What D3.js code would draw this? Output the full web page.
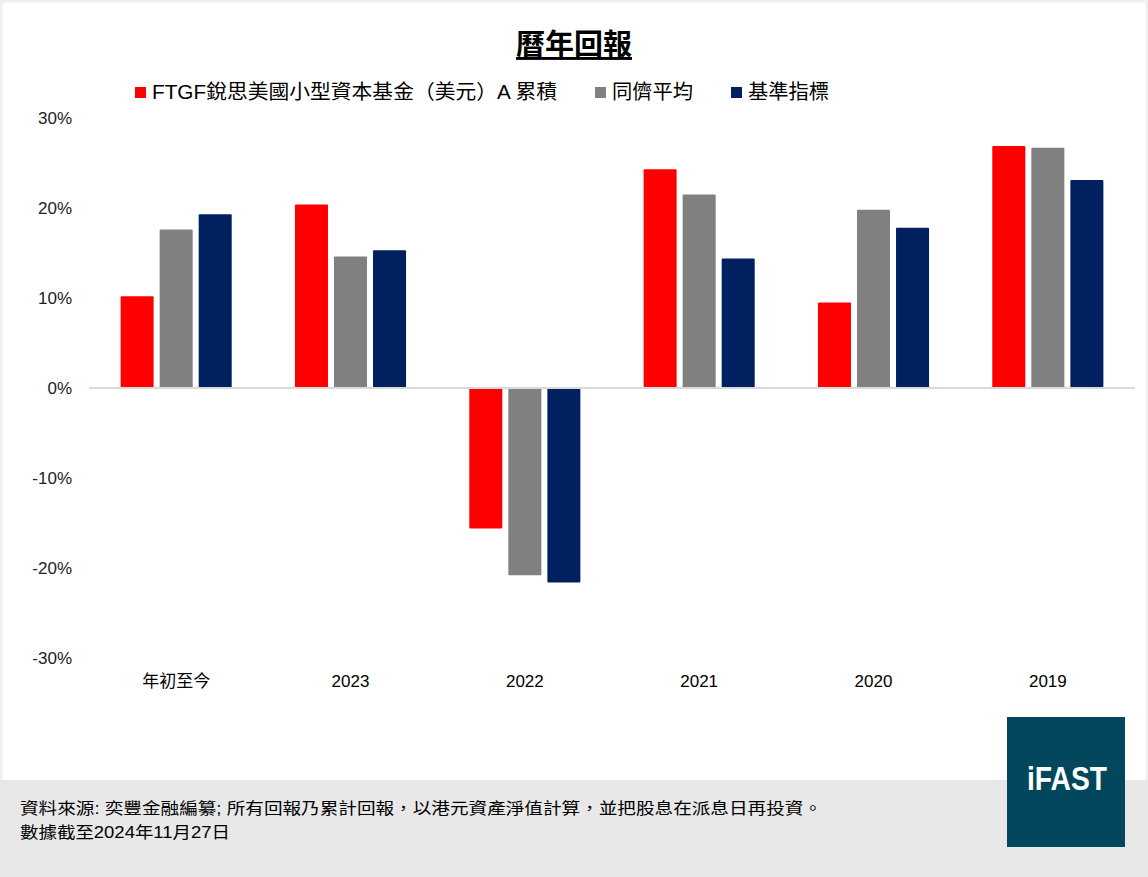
<!DOCTYPE html>
<html>
<head>
<meta charset="utf-8">
<script src="https://cdn.jsdelivr.net/npm/d3@7"></script>
<style>
  body { margin: 0; background: #fff; }
  svg { display: block; }
  text { font-family: "Liberation Sans", Arial, "Noto Sans CJK TC", sans-serif; }
</style>
</head>
<body>
<div id="chart"></div>
<script>
// chart data
var categories = ["年初至今", "2023", "2022", "2021", "2020", "2019"];
var seriesNames = ["FTGF銳思美國小型資本基金（美元）A 累積", "同儕平均", "基準指標"];
var fundValues = [10.2, 20.4, -15.6, 24.3, 9.5, 26.9];
var peerValues = [17.6, 14.6, -20.8, 21.5, 19.8, 26.7];
var benchValues = [19.3, 15.3, -21.6, 14.4, 17.8, 23.1];
var yTicks = [-30, -20, -10, 0, 10, 20, 30];
var colors = ["#ff0000", "#808080", "#002060"];

var allSeries = [fundValues, peerValues, benchValues];

var w = 1148;
var h = 877;

var svg = d3.select("#chart")
  .append("svg")
  .attr("width", w)
  .attr("height", h);

// faint frame
svg.append("rect")
  .attr("x", 0).attr("y", 0)
  .attr("width", w).attr("height", h)
  .attr("fill", "#fff")
  .attr("stroke", "#f0f0f0")
  .attr("stroke-width", 5);

// footer band
svg.append("rect")
  .attr("x", 0).attr("y", 780)
  .attr("width", w).attr("height", h - 780)
  .attr("fill", "#e8e8e8");

// scales
var x = d3.scaleBand()
  .domain(categories)
  .range([89, 1135]);

var xSub = d3.scaleBand()
  .domain(d3.range(seriesNames.length))
  .range([0, x.bandwidth()])
  .paddingInner(0.154)
  .paddingOuter(0.81);

var y = d3.scaleLinear()
  .domain([-30, 30])
  .range([658, 118]);

// title
svg.append("text")
  .attr("x", 574)
  .attr("y", 55)
  .attr("text-anchor", "middle")
  .attr("font-size", "29px")
  .attr("font-weight", "bold")
  .attr("text-decoration", "underline")
  .attr("fill", "#000")
  .text("曆年回報");

// legend (label widths)
var legendWidths = [405, 81, 81];
var lx = 135;
seriesNames.forEach(function(name, i) {
  svg.append("rect")
    .attr("x", lx).attr("y", 87)
    .attr("width", 11).attr("height", 11)
    .attr("fill", colors[i]);
  svg.append("text")
    .attr("x", lx + 17)
    .attr("y", 99)
    .attr("font-size", "20px")
    .attr("fill", "#000")
    .attr("textLength", legendWidths[i])
    .attr("lengthAdjust", "spacingAndGlyphs")
    .text(name);
  lx = lx + 17 + legendWidths[i] + 38;
});

// y axis
var yAxis = svg.append("g")
  .attr("transform", "translate(80,0)")
  .call(d3.axisLeft(y).tickValues(yTicks).tickSize(0).tickPadding(8)
    .tickFormat(function(d) { return d + "%"; }));
yAxis.select(".domain").remove();
yAxis.selectAll("text")
  .attr("font-size", "17px")
  .attr("fill", "#222")
  .style("font-family", "'Liberation Sans', Arial, sans-serif");

// x axis labels
var xAxis = svg.append("g")
  .attr("transform", "translate(0,658)")
  .call(d3.axisBottom(x).tickSize(0).tickPadding(17));
xAxis.select(".domain").remove();
xAxis.selectAll("text")
  .attr("font-size", "17px")
  .attr("fill", "#000")
  .style("font-family", "'Liberation Sans', Arial, 'Noto Sans CJK TC', sans-serif");

// bars
allSeries.forEach(function(vals, s) {
  svg.append("g")
    .selectAll("rect")
    .data(vals)
    .enter()
    .append("rect")
    .attr("x", function(d, i) { return x(categories[i]) + xSub(s); })
    .attr("y", function(d) { return d >= 0 ? y(d) : y(0); })
    .attr("width", xSub.bandwidth())
    .attr("height", function(d) { return Math.abs(y(d) - y(0)); })
    .attr("rx", 1)
    .attr("fill", colors[s]);
});

// zero line
svg.append("line")
  .attr("x1", 89).attr("x2", 1135)
  .attr("y1", y(0)).attr("y2", y(0))
  .attr("stroke", "#d9d9d9")
  .attr("stroke-width", 2);

// footer notes
svg.append("text")
  .attr("x", 20).attr("y", 814)
  .attr("font-size", "16px")
  .attr("fill", "#000")
  .attr("textLength", 802)
  .attr("lengthAdjust", "spacingAndGlyphs")
  .text("資料來源: 奕豐金融編纂; 所有回報乃累計回報，以港元資產淨值計算，並把股息在派息日再投資。");

svg.append("text")
  .attr("x", 20).attr("y", 838)
  .attr("font-size", "16px")
  .attr("fill", "#000")
  .attr("textLength", 210)
  .attr("lengthAdjust", "spacingAndGlyphs")
  .text("數據截至2024年11月27日");

// logo
svg.append("rect")
  .attr("x", 1007).attr("y", 717)
  .attr("width", 118).attr("height", 130)
  .attr("fill", "#02475e");

svg.append("text")
  .attr("x", 1027).attr("y", 790)
  .attr("font-size", "34px")
  .attr("font-weight", "bold")
  .attr("fill", "#fff")
  .attr("textLength", 80)
  .attr("lengthAdjust", "spacingAndGlyphs")
  .text("iFAST");
</script>
</body>
</html>
